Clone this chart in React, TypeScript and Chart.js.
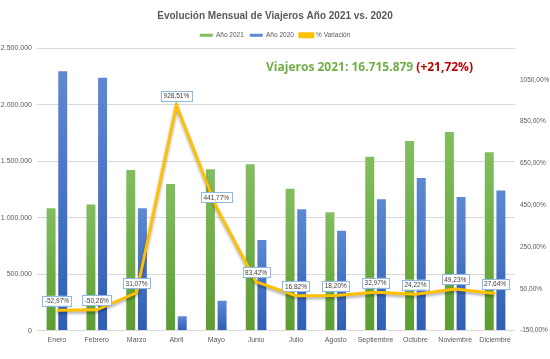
import { useEffect, useRef } from 'react';
import { Chart, registerables } from 'chart.js';

Chart.register(...registerables);

const months = ['Enero', 'Febrero', 'Marzo', 'Abril', 'Mayo', 'Junio', 'Julio', 'Agosto', 'Septiembre', 'Octubre', 'Noviembre', 'Diciembre'];
const viajeros2021 = [1084000, 1117000, 1424000, 1300000, 1430000, 1474000, 1256000, 1049000, 1540000, 1681000, 1761000, 1581000];
const viajeros2020 = [2299000, 2240000, 1084000, 126400, 264000, 804000, 1076000, 884000, 1164000, 1353000, 1185000, 1241000];
const variacion = [-52.97, -50.26, 31.07, 928.51, 441.77, 83.42, 16.82, 18.2, 32.97, 24.22, 49.23, 27.64];
const leftTicks = [0, 500000, 1000000, 1500000, 2000000, 2500000];
const rightTicks = [-150, 50, 250, 450, 650, 850, 1050];
const titleText = 'Evolución Mensual de Viajeros Año 2021 vs. 2020';
const annotationMain = 'Viajeros 2021: 16.715.879 ';
const annotationPct = '(+21,72%)';

const FONT = '"Liberation Sans", Arial, sans-serif';

const fmtThousands = (v: number) => String(Math.round(v)).replace(/\B(?=(\d{3})+(?!\d))/g, '.');
const fmtPct = (v: number) => v.toFixed(2).replace('.', ',') + '%';

function barGradient(top: string, bottom: string) {
  return (ctx: any) => {
    const chart = ctx.chart;
    const yScale = chart.scales?.y;
    if (!chart.chartArea || !yScale || ctx.raw == null) return bottom;
    const yTop = yScale.getPixelForValue(ctx.raw);
    const yBase = yScale.getPixelForValue(0);
    if (!isFinite(yTop) || yBase - yTop < 1) return bottom;
    const g = chart.ctx.createLinearGradient(0, yTop, 0, yBase);
    g.addColorStop(0, top);
    g.addColorStop(1, bottom);
    return g;
  };
}

const lineShadowPlugin = {
  id: 'lineShadow',
  beforeDatasetDraw(chart: any, args: any) {
    if (args.index !== 2) return;
    const c = chart.ctx;
    c.save();
    c.shadowColor = 'rgba(0,0,0,0.35)';
    c.shadowBlur = 3;
    c.shadowOffsetY = 2;
  },
  afterDatasetDraw(chart: any, args: any) {
    if (args.index !== 2) return;
    chart.ctx.restore();
  },
};

const labelPlugin = {
  id: 'pctLabels',
  afterDatasetsDraw(chart: any) {
    const meta = chart.getDatasetMeta(2);
    const c = chart.ctx;
    c.save();
    c.font = `6.5px ${FONT}`;
    c.textAlign = 'center';
    c.textBaseline = 'middle';
    meta.data.forEach((pt: any, i: number) => {
      const txt = fmtPct(variacion[i]);
      const w = c.measureText(txt).width + 5;
      const h = 10;
      const cx = pt.x;
      const cy = pt.y - 9.5;
      c.fillStyle = '#ffffff';
      c.fillRect(cx - w / 2, cy - h / 2, w, h);
      c.strokeStyle = '#8FB8E3';
      c.lineWidth = 1;
      c.strokeRect(Math.round(cx - w / 2) + 0.5, Math.round(cy - h / 2) + 0.5, Math.round(w), h);
      c.fillStyle = '#404040';
      c.fillText(txt, cx, cy + 0.5);
    });
    c.restore();
  },
};

const annotationPlugin = {
  id: 'annotation',
  afterDraw(chart: any) {
    const c = chart.ctx;
    c.save();
    c.font = `bold 12px "Open Sans", ${FONT}`;
    c.textBaseline = 'middle';
    c.textAlign = 'left';
    const w1 = c.measureText(annotationMain).width;
    const w2 = c.measureText(annotationPct).width;
    const total = w1 + w2;
    const x0 = 473 - total;
    c.fillStyle = '#70AD47';
    c.fillText(annotationMain, x0, 68);
    c.fillStyle = '#C00000';
    c.fillText(annotationPct, x0 + w1, 68);
    c.restore();
  },
};

export default function App() {
  const ref = useRef<HTMLCanvasElement | null>(null);
  useEffect(() => {
    document.body.style.margin = '0';
    if (!ref.current) return;
    const chart = new Chart(ref.current, {
      type: 'bar',
      data: {
        labels: months,
        datasets: [
          {
            label: 'Año 2021',
            data: viajeros2021,
            backgroundColor: barGradient('#82BE5F', '#5C9C31'),
            borderWidth: 0,
            yAxisID: 'y',
            categoryPercentage: 0.585,
            barPercentage: 0.77,
            order: 2,
          },
          {
            label: 'Año 2020',
            data: viajeros2020,
            backgroundColor: barGradient('#5F88D2', '#2F5EB5'),
            borderWidth: 0,
            yAxisID: 'y',
            categoryPercentage: 0.585,
            barPercentage: 0.77,
            order: 2,
          },
          {
            type: 'line',
            label: '% Variación',
            data: variacion,
            borderColor: '#FFC000',
            backgroundColor: '#FFC000',
            borderWidth: 3,
            pointRadius: 0,
            tension: 0,
            yAxisID: 'y1',
            order: 1,
          } as any,
        ],
      },
      options: {
        animation: false,
        responsive: false,
        maintainAspectRatio: false,
        layout: { padding: { top: 1, bottom: 10, left: 0, right: 0 } },
        plugins: {
          title: {
            display: true,
            text: titleText,
            color: '#595959',
            font: { family: FONT, size: 10, weight: 'bold' },
            padding: { top: 9, bottom: 4 },
          },
          legend: {
            display: true,
            position: 'top',
            labels: {
              boxWidth: 13,
              boxHeight: 3,
              color: '#595959',
              font: { family: FONT, size: 6.5 },
              padding: 6,
              sort: (a: any, b: any) => a.datasetIndex - b.datasetIndex,
            },
          },
          tooltip: { enabled: false },
        },
        scales: {
          x: {
            grid: { display: false, drawTicks: false },
            border: { display: false },
            ticks: { color: '#595959', font: { family: FONT, size: 7 }, padding: 5, maxRotation: 0, autoSkip: false },
          },
          y: {
            position: 'left',
            min: 0,
            max: 2500000,
            afterBuildTicks: (s: any) => { s.ticks = leftTicks.map((v) => ({ value: v })); },
            afterFit: (s: any) => { s.width = 37; },
            grid: { color: '#D9D9D9', drawTicks: false },
            border: { display: false },
            ticks: { color: '#595959', font: { family: FONT, size: 7 }, padding: 5, callback: (v: any) => fmtThousands(Number(v)) },
          },
          y1: {
            position: 'right',
            min: -150,
            max: 1200,
            afterBuildTicks: (s: any) => { s.ticks = rightTicks.map((v) => ({ value: v })); },
            afterFit: (s: any) => { s.width = 35; },
            grid: { display: false, drawTicks: false },
            border: { display: false },
            ticks: { color: '#595959', font: { family: FONT, size: 6.5 }, padding: 5, callback: (v: any) => fmtPct(Number(v)) },
          },
        },
      },
      plugins: [lineShadowPlugin, labelPlugin, annotationPlugin],
    });
    return () => chart.destroy();
  }, []);
  return (
    <div style={{ width: 550, height: 359, background: '#ffffff' }}>
      <canvas ref={ref} width={550} height={359} style={{ display: 'block', width: 550, height: 359 }} />
    </div>
  );
}
